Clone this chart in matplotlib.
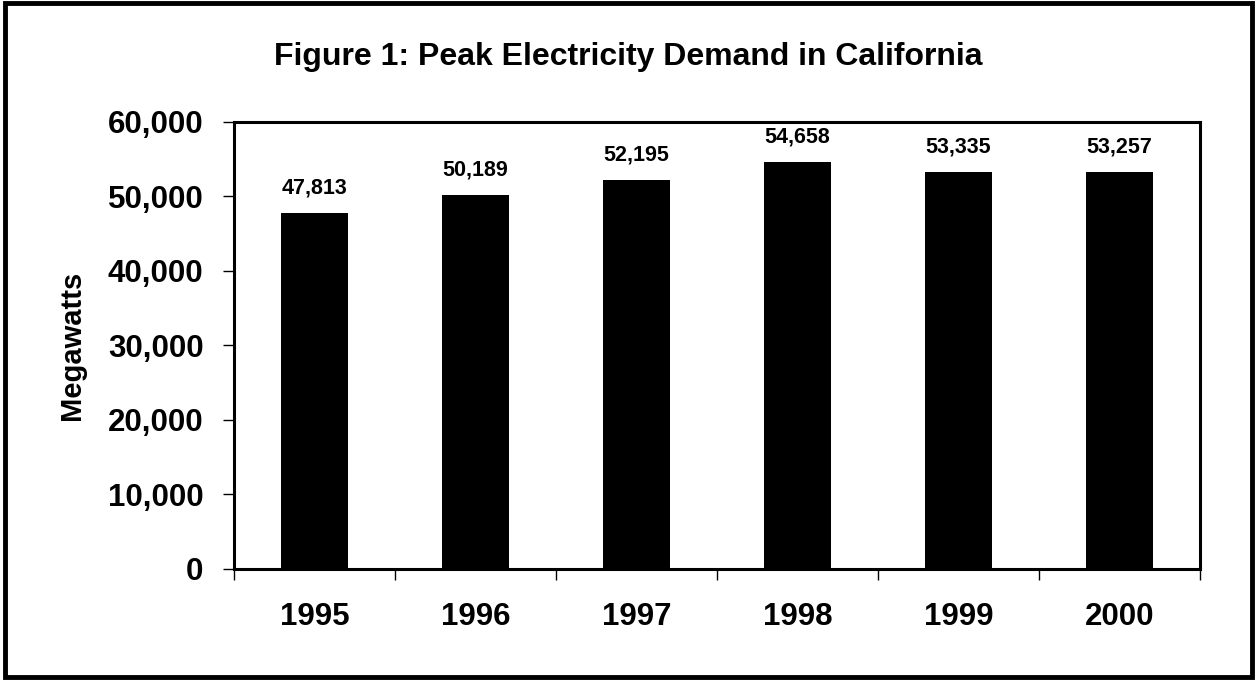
import matplotlib.pyplot as plt
from matplotlib.patches import Rectangle
from matplotlib.ticker import FuncFormatter

# datos del grafico
years = ['1995', '1996', '1997', '1998', '1999', '2000']
megawatts = [47813, 50189, 52195, 54658, 53335, 53257]

plt.rcParams['font.family'] = ['Liberation Sans', 'DejaVu Sans']
plt.rcParams['font.weight'] = 'bold'

fig = plt.figure(figsize=(12.57, 6.81), dpi=100)
ax = fig.add_axes([0.1862, 0.1645, 0.9547 - 0.1862, 0.8209 - 0.1645])

x = list(range(len(years)))
ax.bar(x, megawatts, width=0.42, color='black')

# etiquetas encima de cada barra
for xi, v in zip(x, megawatts):
    ax.annotate(f'{v:,}', (xi, v), xytext=(0, 10.5), textcoords='offset points',
                ha='center', va='bottom', fontsize=15.5, fontweight='bold')

ax.set_xlim(-0.5, len(years) - 0.5)
ax.set_ylim(0, 60000)
ax.set_yticks(range(0, 60001, 10000))
ax.yaxis.set_major_formatter(FuncFormatter(lambda v, p: f'{int(v):,}'))

# marcas del eje x entre categorias
ax.set_xticks([i - 0.5 for i in range(len(years) + 1)])
ax.set_xticklabels([])
ax.set_xticks(x, minor=True)
ax.set_xticklabels(years, minor=True, fontsize=22.5, fontweight='bold')
ax.tick_params(axis='x', which='minor', length=0, pad=24)
ax.tick_params(axis='x', which='major', length=8, width=1, direction='out')
ax.tick_params(axis='y', length=8, width=1, direction='out', labelsize=22.5, pad=14)
for lab in ax.get_yticklabels():
    lab.set_fontweight('bold')

for s in ax.spines.values():
    s.set_linewidth(2.2)

ax.set_ylabel('Megawatts', fontsize=21, fontweight='bold', labelpad=16)
fig.text(0.5, 0.916, 'Figure 1: Peak Electricity Demand in California',
         ha='center', va='center', fontsize=23, fontweight='bold')

# borde exterior
fig.patches.append(Rectangle((0.004, 0.006), 0.992, 0.99, transform=fig.transFigure,
                             fill=False, edgecolor='black', linewidth=3.5))

fig.savefig('out.png', dpi=100)
